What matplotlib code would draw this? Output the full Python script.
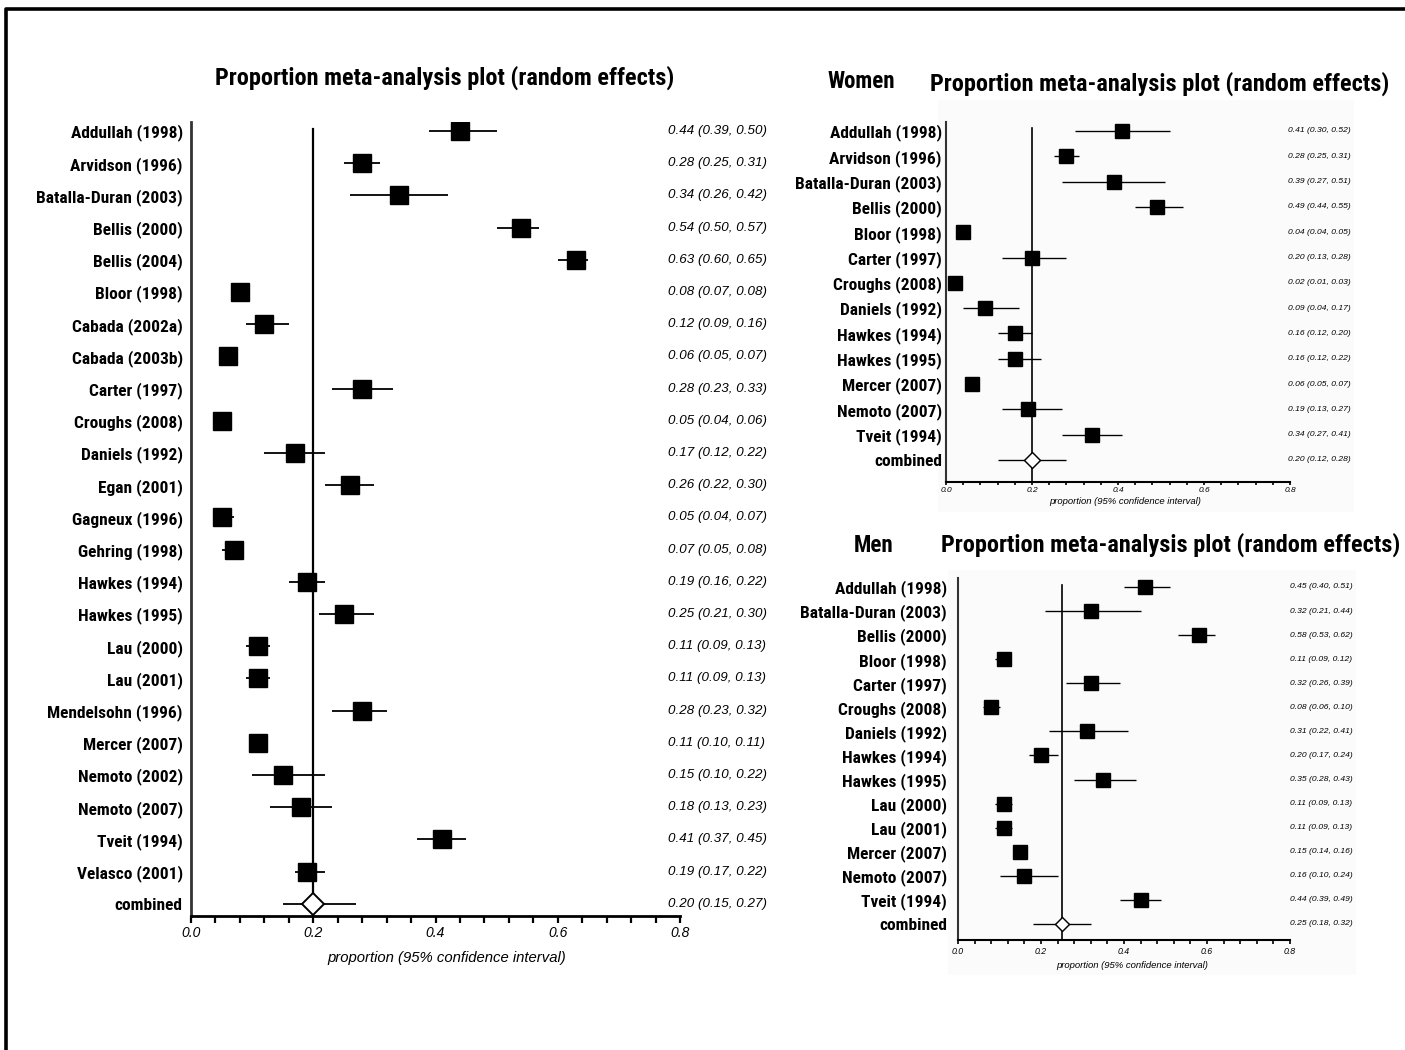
import matplotlib
matplotlib.use("Agg")
import matplotlib.pyplot as plt
from matplotlib import font_manager as fm
from matplotlib.lines import Line2D
from matplotlib.patches import Rectangle
from matplotlib.transforms import blended_transform_factory

# ---------------- data ----------------
all_studies = ["Addullah (1998)", "Arvidson (1996)", "Batalla-Duran (2003)", "Bellis (2000)",
               "Bellis (2004)", "Bloor (1998)", "Cabada (2002a)", "Cabada (2003b)", "Carter (1997)",
               "Croughs (2008)", "Daniels (1992)", "Egan (2001)", "Gagneux (1996)", "Gehring (1998)",
               "Hawkes (1994)", "Hawkes (1995)", "Lau (2000)", "Lau (2001)", "Mendelsohn (1996)",
               "Mercer (2007)", "Nemoto (2002)", "Nemoto (2007)", "Tveit (1994)", "Velasco (2001)",
               "combined"]
all_prop = [0.44, 0.28, 0.34, 0.54, 0.63, 0.08, 0.12, 0.06, 0.28, 0.05, 0.17, 0.26, 0.05, 0.07,
            0.19, 0.25, 0.11, 0.11, 0.28, 0.11, 0.15, 0.18, 0.41, 0.19, 0.20]
all_lo = [0.39, 0.25, 0.26, 0.50, 0.60, 0.07, 0.09, 0.05, 0.23, 0.04, 0.12, 0.22, 0.04, 0.05,
          0.16, 0.21, 0.09, 0.09, 0.23, 0.10, 0.10, 0.13, 0.37, 0.17, 0.15]
all_hi = [0.50, 0.31, 0.42, 0.57, 0.65, 0.08, 0.16, 0.07, 0.33, 0.06, 0.22, 0.30, 0.07, 0.08,
          0.22, 0.30, 0.13, 0.13, 0.32, 0.11, 0.22, 0.23, 0.45, 0.22, 0.27]

women_studies = ["Addullah (1998)", "Arvidson (1996)", "Batalla-Duran (2003)", "Bellis (2000)",
                 "Bloor (1998)", "Carter (1997)", "Croughs (2008)", "Daniels (1992)", "Hawkes (1994)",
                 "Hawkes (1995)", "Mercer (2007)", "Nemoto (2007)", "Tveit (1994)", "combined"]
women_prop = [0.41, 0.28, 0.39, 0.49, 0.04, 0.20, 0.02, 0.09, 0.16, 0.16, 0.06, 0.19, 0.34, 0.20]
women_lo = [0.30, 0.25, 0.27, 0.44, 0.04, 0.13, 0.01, 0.04, 0.12, 0.12, 0.05, 0.13, 0.27, 0.12]
women_hi = [0.52, 0.31, 0.51, 0.55, 0.05, 0.28, 0.03, 0.17, 0.20, 0.22, 0.07, 0.27, 0.41, 0.28]

men_studies = ["Addullah (1998)", "Batalla-Duran (2003)", "Bellis (2000)", "Bloor (1998)",
               "Carter (1997)", "Croughs (2008)", "Daniels (1992)", "Hawkes (1994)", "Hawkes (1995)",
               "Lau (2000)", "Lau (2001)", "Mercer (2007)", "Nemoto (2007)", "Tveit (1994)", "combined"]
men_prop = [0.45, 0.32, 0.58, 0.11, 0.32, 0.08, 0.31, 0.20, 0.35, 0.11, 0.11, 0.15, 0.16, 0.44, 0.25]
men_lo = [0.40, 0.21, 0.53, 0.09, 0.26, 0.06, 0.22, 0.17, 0.28, 0.09, 0.09, 0.14, 0.10, 0.39, 0.18]
men_hi = [0.51, 0.44, 0.62, 0.12, 0.39, 0.10, 0.41, 0.24, 0.43, 0.13, 0.13, 0.16, 0.24, 0.49, 0.32]

x_ticks = [0.0, 0.2, 0.4, 0.6, 0.8]
title_text = "Proportion meta-analysis plot (random effects)"
xlabel_text = "proportion (95% confidence interval)"

# ---------------- fonts ----------------
def pick(fams):
    for f in fams:
        try:
            fm.findfont(fm.FontProperties(family=f), fallback_to_default=False)
            return f
        except Exception:
            pass
    return "DejaVu Sans"

COND = pick(["Liberation Sans Narrow", "Roboto Condensed", "Open Sans Condensed", "Liberation Sans"])
ARIAL = pick(["Liberation Sans", "Arimo", "DejaVu Sans"])

W, H = 1405, 1050
fig = plt.figure(figsize=(W / 100, H / 100), dpi=100)
fig.patch.set_facecolor("white")

def fx(px):
    return px / W

def fy(py):
    return 1 - py / H

# figure frame (left and top edges)
fig.add_artist(Line2D([fx(6), fx(6), 1.0], [0.0, fy(9), fy(9)], color="black", lw=2.6,
                      transform=fig.transFigure))

# very subtle grey backgrounds for the pasted right-hand panels
fig.add_artist(Rectangle((fx(938), fy(512)), fx(1354) - fx(938), fy(100) - fy(512),
                         transform=fig.transFigure, facecolor="#fbfbfb", edgecolor="none", zorder=0))
fig.add_artist(Rectangle((fx(948), fy(975)), fx(1356) - fx(948), fy(570) - fy(975),
                         transform=fig.transFigure, facecolor="#fbfbfb", edgecolor="none", zorder=0))


def forest(ax_px, row0, step, studies, prop, lo, hi, ms, dms, lab_fs, lab_pad, val_fs,
           val_xfrac, tick_fs, spine_lw, tick_len, tick_pad, vline_top):
    x0, x1, ytop, ybot = ax_px
    ax = fig.add_axes([fx(x0), fy(ybot), fx(x1) - fx(x0), fy(ytop) - fy(ybot)])
    ax.set_facecolor("none")
    n = len(studies)
    rows = list(range(n))
    ylim_top = (ytop - row0) / step
    ylim_bot = (ybot - row0) / step
    ax.set_ylim(ylim_bot, ylim_top)
    ax.set_xlim(0, 0.8)
    combined_val = prop[-1]
    ax.plot([combined_val, combined_val], [vline_top, ylim_bot], color="black", lw=spine_lw * 0.8,
            zorder=1)
    for i in rows:
        ax.plot([lo[i], hi[i]], [i, i], color="black", lw=spine_lw * 0.65, zorder=2,
                solid_capstyle="butt")
        if studies[i] == "combined":
            ax.plot(prop[i], i, marker="D", ms=dms, mfc="white", mec="black", mew=spine_lw * 0.7,
                    zorder=3)
        else:
            ax.plot(prop[i], i, marker="s", ms=ms, color="black", zorder=3)
    ax.set_yticks(rows)
    ax.set_yticklabels(studies, fontfamily=[COND, "DejaVu Sans"], fontweight="bold",
                       fontsize=lab_fs)
    ax.tick_params(axis="y", length=0, pad=lab_pad)
    ax.set_xticks([i * 0.04 for i in range(21)], minor=True)
    ax.set_xticks(x_ticks)
    ax.set_xticklabels([f"{t:.1f}" for t in x_ticks], fontfamily=[ARIAL, "DejaVu Sans"],
                       fontstyle="italic", fontsize=tick_fs)
    ax.tick_params(axis="x", which="both", direction="out", length=tick_len, width=spine_lw * 0.8,
                   pad=tick_pad)
    for s in ("top", "right"):
        ax.spines[s].set_visible(False)
    for s in ("left", "bottom"):
        ax.spines[s].set_linewidth(spine_lw)
    ax.spines["left"].set_color("#333333")
    tr = blended_transform_factory(ax.transAxes, ax.transData)
    for i in rows:
        ax.text(val_xfrac, i, f"{prop[i]:.2f} ({lo[i]:.2f}, {hi[i]:.2f})", transform=tr,
                ha="left", va="center", fontsize=val_fs, fontstyle="italic",
                fontfamily=[ARIAL, "DejaVu Sans"], clip_on=False)
    return ax


# main panel
forest((191, 680, 122, 916), 131, 32.2, all_studies, all_prop, all_lo, all_hi,
       ms=13.5, dms=11, lab_fs=12.5, lab_pad=6, val_fs=9.6, val_xfrac=(668 - 191) / 489,
       tick_fs=10, spine_lw=2.0, tick_len=5, tick_pad=2, vline_top=-0.05)

# women panel
forest((946, 1290, 122, 482), 131, 25.3, women_studies, women_prop, women_lo, women_hi,
       ms=10, dms=8, lab_fs=12.5, lab_pad=3, val_fs=6.1, val_xfrac=(1288 - 946) / 344,
       tick_fs=6.0, spine_lw=1.5, tick_len=2.5, tick_pad=0.8, vline_top=-0.1)

# men panel
forest((958, 1290, 578, 940), 587, 24.07, men_studies, men_prop, men_lo, men_hi,
       ms=9.5, dms=7.5, lab_fs=12.5, lab_pad=8, val_fs=6.1, val_xfrac=1.0,
       tick_fs=6.3, spine_lw=1.5, tick_len=3, tick_pad=2, vline_top=-0.1)

# titles
tkw = dict(fontfamily=[COND, "DejaVu Sans"], fontweight="bold", ha="center", va="center")
fig.text(fx(445), fy(78), title_text, fontsize=17.5, **tkw)
fig.text(fx(861), fy(81), "Women", fontsize=16.5, **tkw)
fig.text(fx(1160), fy(84), title_text, fontsize=17.5, **tkw)
fig.text(fx(874), fy(545), "Men", fontsize=16.5, **tkw)
fig.text(fx(1171), fy(545), title_text, fontsize=17.5, **tkw)

# axis labels
lkw = dict(fontfamily=[ARIAL, "DejaVu Sans"], fontstyle="italic", ha="center", va="center")
fig.text(fx(447), fy(958), xlabel_text, fontsize=10.7, **lkw)
fig.text(fx(1125), fy(502), xlabel_text, fontsize=6.8, **lkw)
fig.text(fx(1132), fy(965), xlabel_text, fontsize=6.8, **lkw)

fig.savefig("out.png", dpi=100, facecolor="white")
